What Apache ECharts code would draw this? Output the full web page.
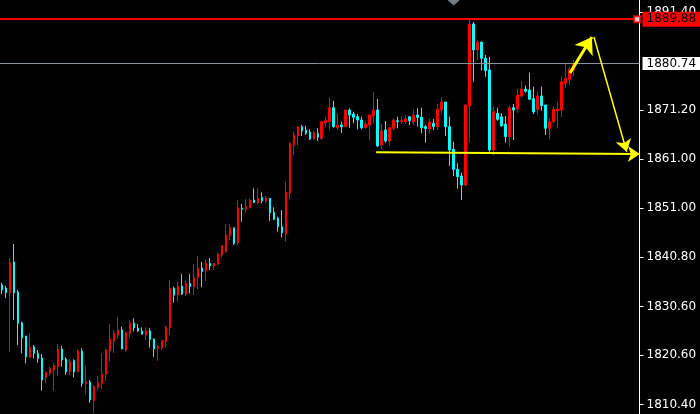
<!DOCTYPE html>
<html>
<head>
<meta charset="utf-8">
<script src="https://cdn.jsdelivr.net/npm/echarts@6/dist/echarts.min.js"></script>
<style>html,body{margin:0;padding:0;background:#000;}#c{width:700px;height:414px;}</style>
</head>
<body>
<div id="c"></div>
<script>
// slots on the time axis (144 bars drawn + empty chart shift on the right)
const categories = Array.from({length: 160}, (_, i) => 'bar' + i);

// [open, close, low, high]
const candles = [
[1835.08,1834.05,1833.22,1835.55],[1834.46,1833.49,1832.40,1834.87],[1833.49,1839.67,1821.32,1840.71],[1839.82,1833.49,1827.86,1843.53],
[1833.63,1827.18,1822.70,1834.05],[1827.30,1824.21,1820.99,1827.51],[1824.56,1820.29,1818.93,1824.56],[1820.17,1822.23,1820.17,1825.12],
[1822.35,1820.99,1819.96,1822.70],[1820.99,1819.96,1819.06,1821.67],[1820.02,1815.49,1813.28,1820.85],[1815.96,1817.14,1814.81,1817.14],
[1816.93,1817.82,1816.46,1818.11],[1817.55,1818.52,1813.28,1818.93],[1818.23,1821.88,1816.31,1822.91],[1821.88,1819.61,1818.23,1822.50],
[1819.76,1817.14,1816.58,1820.17],[1817.20,1819.26,1816.46,1819.76],[1819.47,1817.20,1816.04,1819.76],[1817.20,1821.47,1817.20,1821.82],
[1821.47,1814.81,1814.11,1822.02],[1814.81,1815.07,1812.60,1818.37],[1815.07,1811.36,1810.81,1815.49],[1811.22,1814.11,1808.74,1814.39],
[1813.98,1814.93,1813.28,1816.31],[1814.81,1816.72,1813.57,1820.99],[1816.72,1821.67,1815.34,1822.02],[1821.47,1823.94,1819.26,1827.03],
[1823.59,1825.12,1821.12,1825.80],[1824.77,1825.80,1824.09,1828.54],[1825.80,1821.88,1821.88,1826.48],[1821.67,1825.24,1821.32,1825.45],
[1825.12,1827.18,1824.09,1827.71],[1827.18,1826.21,1825.53,1828.21],[1826.15,1825.65,1825.39,1827.03],[1825.59,1824.91,1824.91,1826.35],
[1824.77,1825.59,1823.74,1826.35],[1825.59,1823.88,1822.23,1826.15],[1823.88,1821.88,1820.29,1824.09],[1822.02,1822.35,1819.47,1822.70],
[1822.15,1823.59,1821.67,1823.59],[1823.38,1826.35,1822.15,1826.62],[1826.35,1834.40,1824.77,1836.11],[1834.40,1833.01,1831.43,1834.73],
[1833.01,1834.87,1831.63,1835.76],[1834.87,1833.22,1833.01,1837.34],[1833.22,1835.43,1832.81,1835.96],[1835.43,1834.73,1833.36,1837.34],
[1834.73,1836.66,1833.01,1839.41],[1836.66,1838.58,1834.19,1841.06],[1838.58,1837.82,1834.60,1839.82],[1837.96,1839.55,1835.96,1840.37],
[1839.55,1838.99,1838.17,1840.64],[1838.99,1839.55,1838.17,1839.55],[1839.41,1841.47,1839.26,1841.74],[1841.26,1843.12,1840.71,1843.32],
[1841.94,1845.39,1841.74,1847.65],[1845.18,1846.89,1844.35,1847.65],[1846.89,1843.67,1843.32,1846.89],[1843.80,1851.01,1843.32,1852.60],
[1850.89,1850.68,1848.13,1851.78],[1850.75,1851.22,1849.98,1852.75],[1851.01,1852.60,1850.89,1852.95],[1852.60,1852.05,1852.05,1855.01],
[1852.05,1852.95,1851.78,1855.01],[1853.16,1852.46,1851.92,1854.19],[1852.46,1852.95,1851.92,1853.43],[1852.95,1849.98,1848.33,1852.95],
[1850.07,1848.62,1848.48,1851.10],[1848.83,1847.10,1846.07,1849.16],[1847.10,1845.86,1844.91,1850.54],[1845.59,1854.25,1844.00,1856.37],
[1853.98,1864.29,1852.75,1864.42],[1863.94,1866.00,1861.88,1866.68],[1865.80,1867.72,1863.94,1867.86],[1867.72,1866.83,1865.80,1868.07],
[1867.04,1866.35,1866.00,1867.86],[1866.62,1865.18,1864.97,1867.18],[1865.18,1866.48,1864.97,1866.83],[1866.35,1865.53,1864.77,1867.39],
[1865.32,1868.75,1864.97,1868.75],[1868.54,1868.95,1867.72,1869.78],[1868.75,1871.63,1867.04,1873.70],[1871.63,1867.72,1867.51,1873.02],
[1867.51,1868.07,1867.04,1870.48],[1868.07,1867.72,1866.42,1868.75],[1867.72,1871.16,1867.72,1871.16],[1871.16,1870.13,1867.51,1871.51],
[1870.33,1869.65,1868.42,1870.81],[1869.78,1869.10,1867.18,1870.33],[1869.10,1867.51,1867.18,1869.78],[1867.51,1868.27,1867.39,1868.75],
[1868.07,1870.13,1864.97,1870.13],[1869.92,1871.16,1868.42,1874.93],[1871.16,1863.74,1863.53,1873.43],[1863.94,1866.83,1863.12,1868.27],
[1867.04,1864.77,1864.42,1868.89],[1864.77,1867.51,1863.74,1867.51],[1867.39,1869.10,1867.04,1869.45],[1868.95,1868.75,1867.39,1869.78],
[1868.75,1868.95,1868.27,1869.92],[1868.75,1869.37,1868.27,1870.13],[1869.78,1868.95,1868.07,1869.78],[1868.75,1870.13,1868.07,1871.16],
[1870.13,1869.65,1867.72,1871.51],[1869.65,1867.51,1866.35,1871.63],[1867.72,1867.30,1864.42,1868.07],[1867.24,1868.62,1866.35,1869.45],
[1868.42,1867.72,1867.04,1869.30],[1867.72,1871.30,1867.04,1872.40],[1871.16,1872.81,1870.33,1873.78],[1872.81,1867.72,1865.80,1872.81],
[1867.72,1862.91,1859.61,1869.78],[1863.06,1858.93,1857.55,1864.62],[1858.93,1857.41,1854.93,1860.17],[1857.55,1855.70,1852.60,1858.23],
[1855.70,1872.19,1855.49,1872.40],[1871.98,1888.89,1864.42,1889.88],[1888.89,1883.53,1876.99,1889.30],[1883.53,1885.18,1881.47,1885.59],
[1885.18,1881.82,1879.26,1885.18],[1881.82,1879.26,1878.03,1882.50],[1879.41,1862.91,1862.56,1882.15],[1862.91,1870.81,1861.88,1871.84],
[1870.48,1869.24,1868.95,1871.63],[1869.78,1867.92,1867.72,1870.48],[1868.27,1865.65,1864.42,1869.92],[1865.65,1871.63,1863.59,1872.05],
[1871.63,1871.16,1864.97,1872.40],[1871.37,1874.25,1870.60,1875.49],[1874.05,1875.49,1873.78,1877.20],[1875.49,1875.02,1874.73,1876.17],
[1875.28,1873.37,1873.22,1878.85],[1873.49,1870.81,1870.33,1875.96],[1871.30,1874.05,1870.13,1874.93],[1874.05,1872.05,1871.01,1875.96],
[1872.19,1867.39,1866.00,1872.19],[1867.39,1868.75,1865.12,1869.45],[1868.75,1871.30,1868.42,1871.84],[1870.95,1871.30,1867.39,1872.87],
[1871.16,1876.99,1869.78,1878.03],[1876.66,1877.70,1875.63,1880.64],[1877.49,1879.55,1876.31,1880.09],[1879.41,1880.74,1878.03,1881.47]
];

// price axis tick labels
const yTickLabels = ['1810.40','1820.60','1830.60','1840.80','1851.00','1861.00','1871.20','1891.40'];
const yMin = 1808.48, yMax = 1893.84;

// horizontal price levels
const resistanceLevel = 1889.88;
const currentPrice = 1880.74;

// drawn arrows: [barIndex, price] pairs
const arrowUp = [[142.1, 1878.79], [147.6, 1886.21]];
const arrowDown = [[148.1, 1886.21], [156.3, 1862.56]];
const arrowFlat = [[93.6, 1862.44], [159.6, 1862.09]];
const levelMarker = [[158.9, 1889.88]];
const topMarker = [[113, 1893.32]];

const FONT = 'DejaVu Sans';
const chart = echarts.init(document.getElementById('c'), null, {renderer: 'canvas'});

function arrowSeries(coords, width, size) {
  return {
    type: 'lines', coordinateSystem: 'cartesian2d', xAxisIndex: 1, yAxisIndex: 0,
    symbol: ['none', 'arrow'], symbolSize: size, silent: true, z: 5,
    lineStyle: {color: '#ffff00', width: width, opacity: 1},
    data: [{coords: coords}]
  };
}

chart.setOption({
  backgroundColor: '#000',
  animation: false,
  grid: {left: -0.5, right: 60.5, top: 0, bottom: 0, containLabel: false},
  xAxis: [
    {type: 'category', data: categories, boundaryGap: true, show: false},
    {type: 'value', min: -0.5, max: 159.5, show: false}
  ],
  yAxis: {
    type: 'value', position: 'right', min: yMin, max: yMax, scale: true,
    splitLine: {show: false},
    axisLine: {show: true, onZero: false, lineStyle: {color: '#ffffff', width: 1}},
    axisTick: {show: true, length: 4, lineStyle: {color: '#ffffff'},
      customValues: yTickLabels.map(Number)},
    axisLabel: {show: true, color: '#ffffff', fontFamily: FONT, fontSize: 12, margin: 7,
      customValues: yTickLabels.map(Number),
      formatter: v => Number(v).toFixed(2)}
  },
  series: [
    {
      type: 'candlestick', data: candles, barWidth: 2,
      itemStyle: {color: '#ff0000', color0: '#00ffff', borderColor: '#ff0000', borderColor0: '#00ffff', borderWidth: 1},
      markLine: {
        symbol: 'none', silent: true, animation: false,
        data: [
          {yAxis: resistanceLevel,
           lineStyle: {color: '#ff0000', width: 2, type: 'solid'},
           label: {show: true, position: 'end', distance: 3, formatter: p => Number(p.value).toFixed(2),
             backgroundColor: '#ff0000', color: '#000000', fontFamily: FONT, fontSize: 12,
             padding: [1, 4, 1, 4], lineHeight: 13}},
          {yAxis: currentPrice,
           lineStyle: {color: '#8795a3', width: 1, type: 'solid'},
           label: {show: true, position: 'end', distance: 3, formatter: p => Number(p.value).toFixed(2),
             backgroundColor: '#ffffff', color: '#000000', fontFamily: FONT, fontSize: 12,
             padding: [0, 4, 0, 4], lineHeight: 13}}
        ]
      }
    },
    {
      type: 'scatter', xAxisIndex: 1, data: levelMarker, symbol: 'rect', symbolSize: 6, silent: true, z: 6,
      itemStyle: {color: '#ffffff', borderColor: '#ff0000', borderWidth: 2}
    },
    {
      type: 'scatter', xAxisIndex: 0, data: topMarker, symbol: 'path://M0,0L10,0L10,1L5,5L0,1Z',
      symbolSize: [11, 6], silent: true, itemStyle: {color: '#8c9aa6'}
    },
    arrowSeries(arrowFlat, 2, 12),
    arrowSeries(arrowDown, 1.5, 12),
    arrowSeries(arrowUp, 3, 16)
  ]
});
</script>
</body>
</html>
